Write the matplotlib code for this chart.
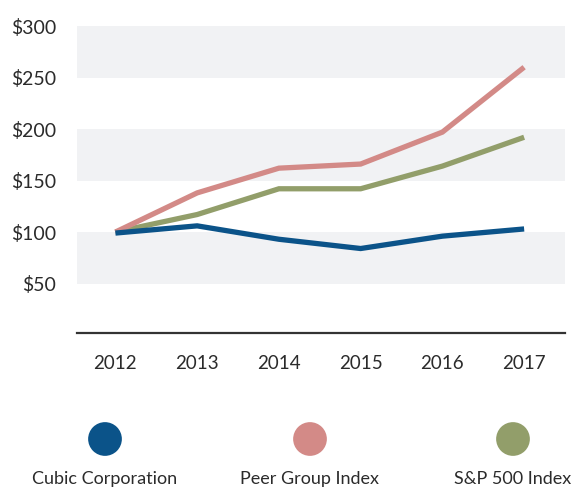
import matplotlib
matplotlib.use("Agg")
import matplotlib.pyplot as plt

years = ["2012", "2013", "2014", "2015", "2016", "2017"]
cubic = [99, 106, 93, 84, 96, 103]
peer = [100, 138, 162, 166, 197, 260]
sp500 = [100, 117, 142, 142, 164, 192]
series_names = ["Cubic Corporation", "Peer Group Index", "S&P 500 Index"]
y_ticks = [50, 100, 150, 200, 250, 300]
y_labels = ["$50", "$100", "$150", "$200", "$250", "$300"]
bands = [(50, 100), (150, 200), (250, 300)]

colors = ["#0b5389", "#d38a87", "#929e6a"]
text_color = "#2b2b2b"
plt.rcParams['font.family'] = ['Lato', 'DejaVu Sans']

W, H = 574, 488
fig = plt.figure(figsize=(W / 100, H / 100), dpi=100)
ax = fig.add_axes([77 / W, (H - 333) / H, (565 - 77) / W, (333 - 26) / H])

x = list(range(len(years)))
for lo, hi in bands:
    ax.axhspan(lo, hi, color="#f1f2f4", zorder=0, lw=0)

for vals, c in zip([sp500, peer, cubic], [colors[2], colors[1], colors[0]]):
    ax.plot(x, vals, color=c, lw=3.8, solid_capstyle="butt", solid_joinstyle="miter", zorder=3)

ax.set_xlim(-0.47, 5.5)
ax.set_ylim(2, 300)
ax.set_yticks(y_ticks)
ax.set_yticklabels(y_labels, fontsize=14, color=text_color)
ax.set_xticks(x)
ax.set_xticklabels(years, fontsize=13.5, color=text_color)
ax.tick_params(axis="y", length=0, pad=15)
ax.tick_params(axis="x", length=0, pad=16)
for s in ["top", "right", "left"]:
    ax.spines[s].set_visible(False)
ax.spines["bottom"].set_color("#333333")
ax.spines["bottom"].set_linewidth(1.6)

# legend
lax = fig.add_axes([0, 0, 1, 1], facecolor="none")
lax.set_xlim(0, W)
lax.set_ylim(H, 0)
lax.axis("off")
cx = [105, 310, 513]
for xx, c, name in zip(cx, colors, series_names):
    lax.scatter([xx], [439], s=590, color=c, edgecolors="none")
    lax.text(xx, 479, name, ha="center", va="center", fontsize=13, color=text_color)

fig.savefig("out.png", dpi=100)
